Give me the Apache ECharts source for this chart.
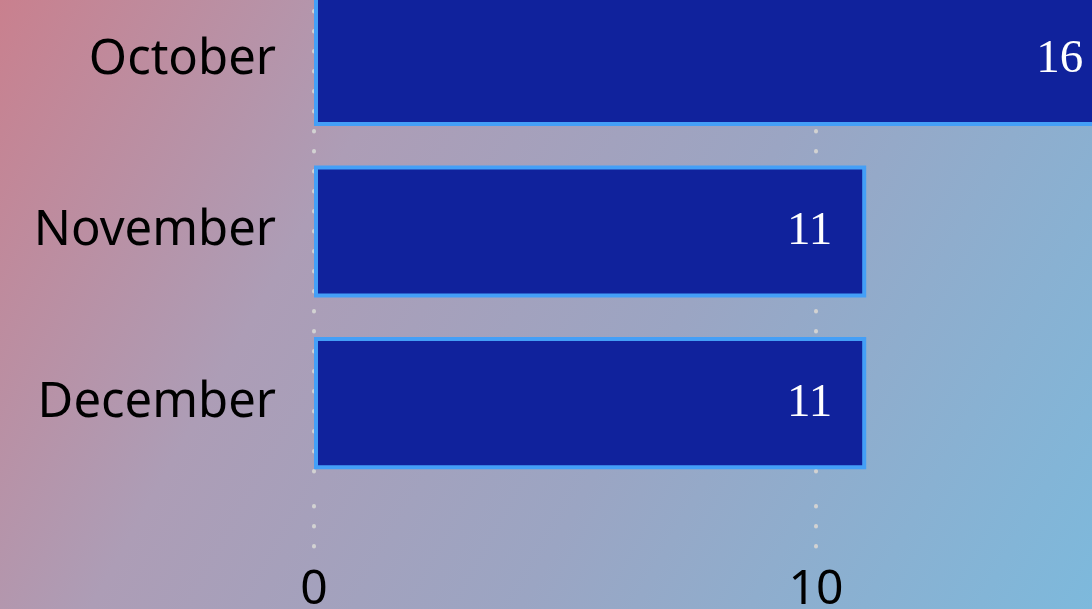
<!DOCTYPE html>
<html>
<head>
<meta charset="utf-8">
<script src="https://cdn.jsdelivr.net/npm/echarts@6/dist/echarts.min.js"></script>
<style>
html,body{margin:0;padding:0;}
#chart{width:1092px;height:609px;}
</style>
</head>
<body>
<div id="chart"></div>
<script>
const categories = ['October', 'November', 'December'];
const values = [16, 11, 11];
const xTicks = [0, 10, 20];

const chart = echarts.init(document.getElementById('chart'));
const dotStyle = { color: '#d2d2d2', width: 4, type: [0.5, 19.5], cap: 'round', dashOffset: 3 };
chart.setOption({
  backgroundColor: {
    type: 'linear', x: 0, y: 0, x2: 1, y2: 1,
    colorStops: [
      { offset: 0, color: '#c9808e' },
      { offset: 0.3, color: '#ad9db6' },
      { offset: 0.6, color: '#9ba5c3' },
      { offset: 1, color: '#7db9dc' }
    ]
  },
  animation: false,
  grid: { left: 314, top: -26, width: 1004, height: 515, containLabel: false, outerBoundsMode: 'none' },
  xAxis: {
    type: 'value',
    min: xTicks[0], max: xTicks[xTicks.length - 1], interval: 10,
    axisLine: { show: false },
    axisTick: { show: true, length: 58, lineStyle: dotStyle },
    splitLine: { show: true, lineStyle: dotStyle },
    axisLabel: { margin: 77, fontFamily: 'Noto Sans', fontSize: 48, color: '#000' }
  },
  yAxis: {
    type: 'category',
    data: categories,
    inverse: true,
    axisLine: { show: false },
    axisTick: { show: false },
    axisLabel: { margin: 38, fontFamily: 'Noto Sans', fontSize: 49, color: '#000', lineHeight: 49, padding: [10, 0, 0, 0] }
  },
  series: [{
    type: 'bar',
    data: values,
    barCategoryGap: '23%',
    itemStyle: { color: '#10229c', borderColor: '#449ff7', borderWidth: 4 },
    label: {
      show: true, position: 'insideRight', distance: 34,
      fontFamily: 'Liberation Serif', fontSize: 47, color: '#fff', padding: [2, 0, 0, 0]
    }
  }]
});
</script>
</body>
</html>
